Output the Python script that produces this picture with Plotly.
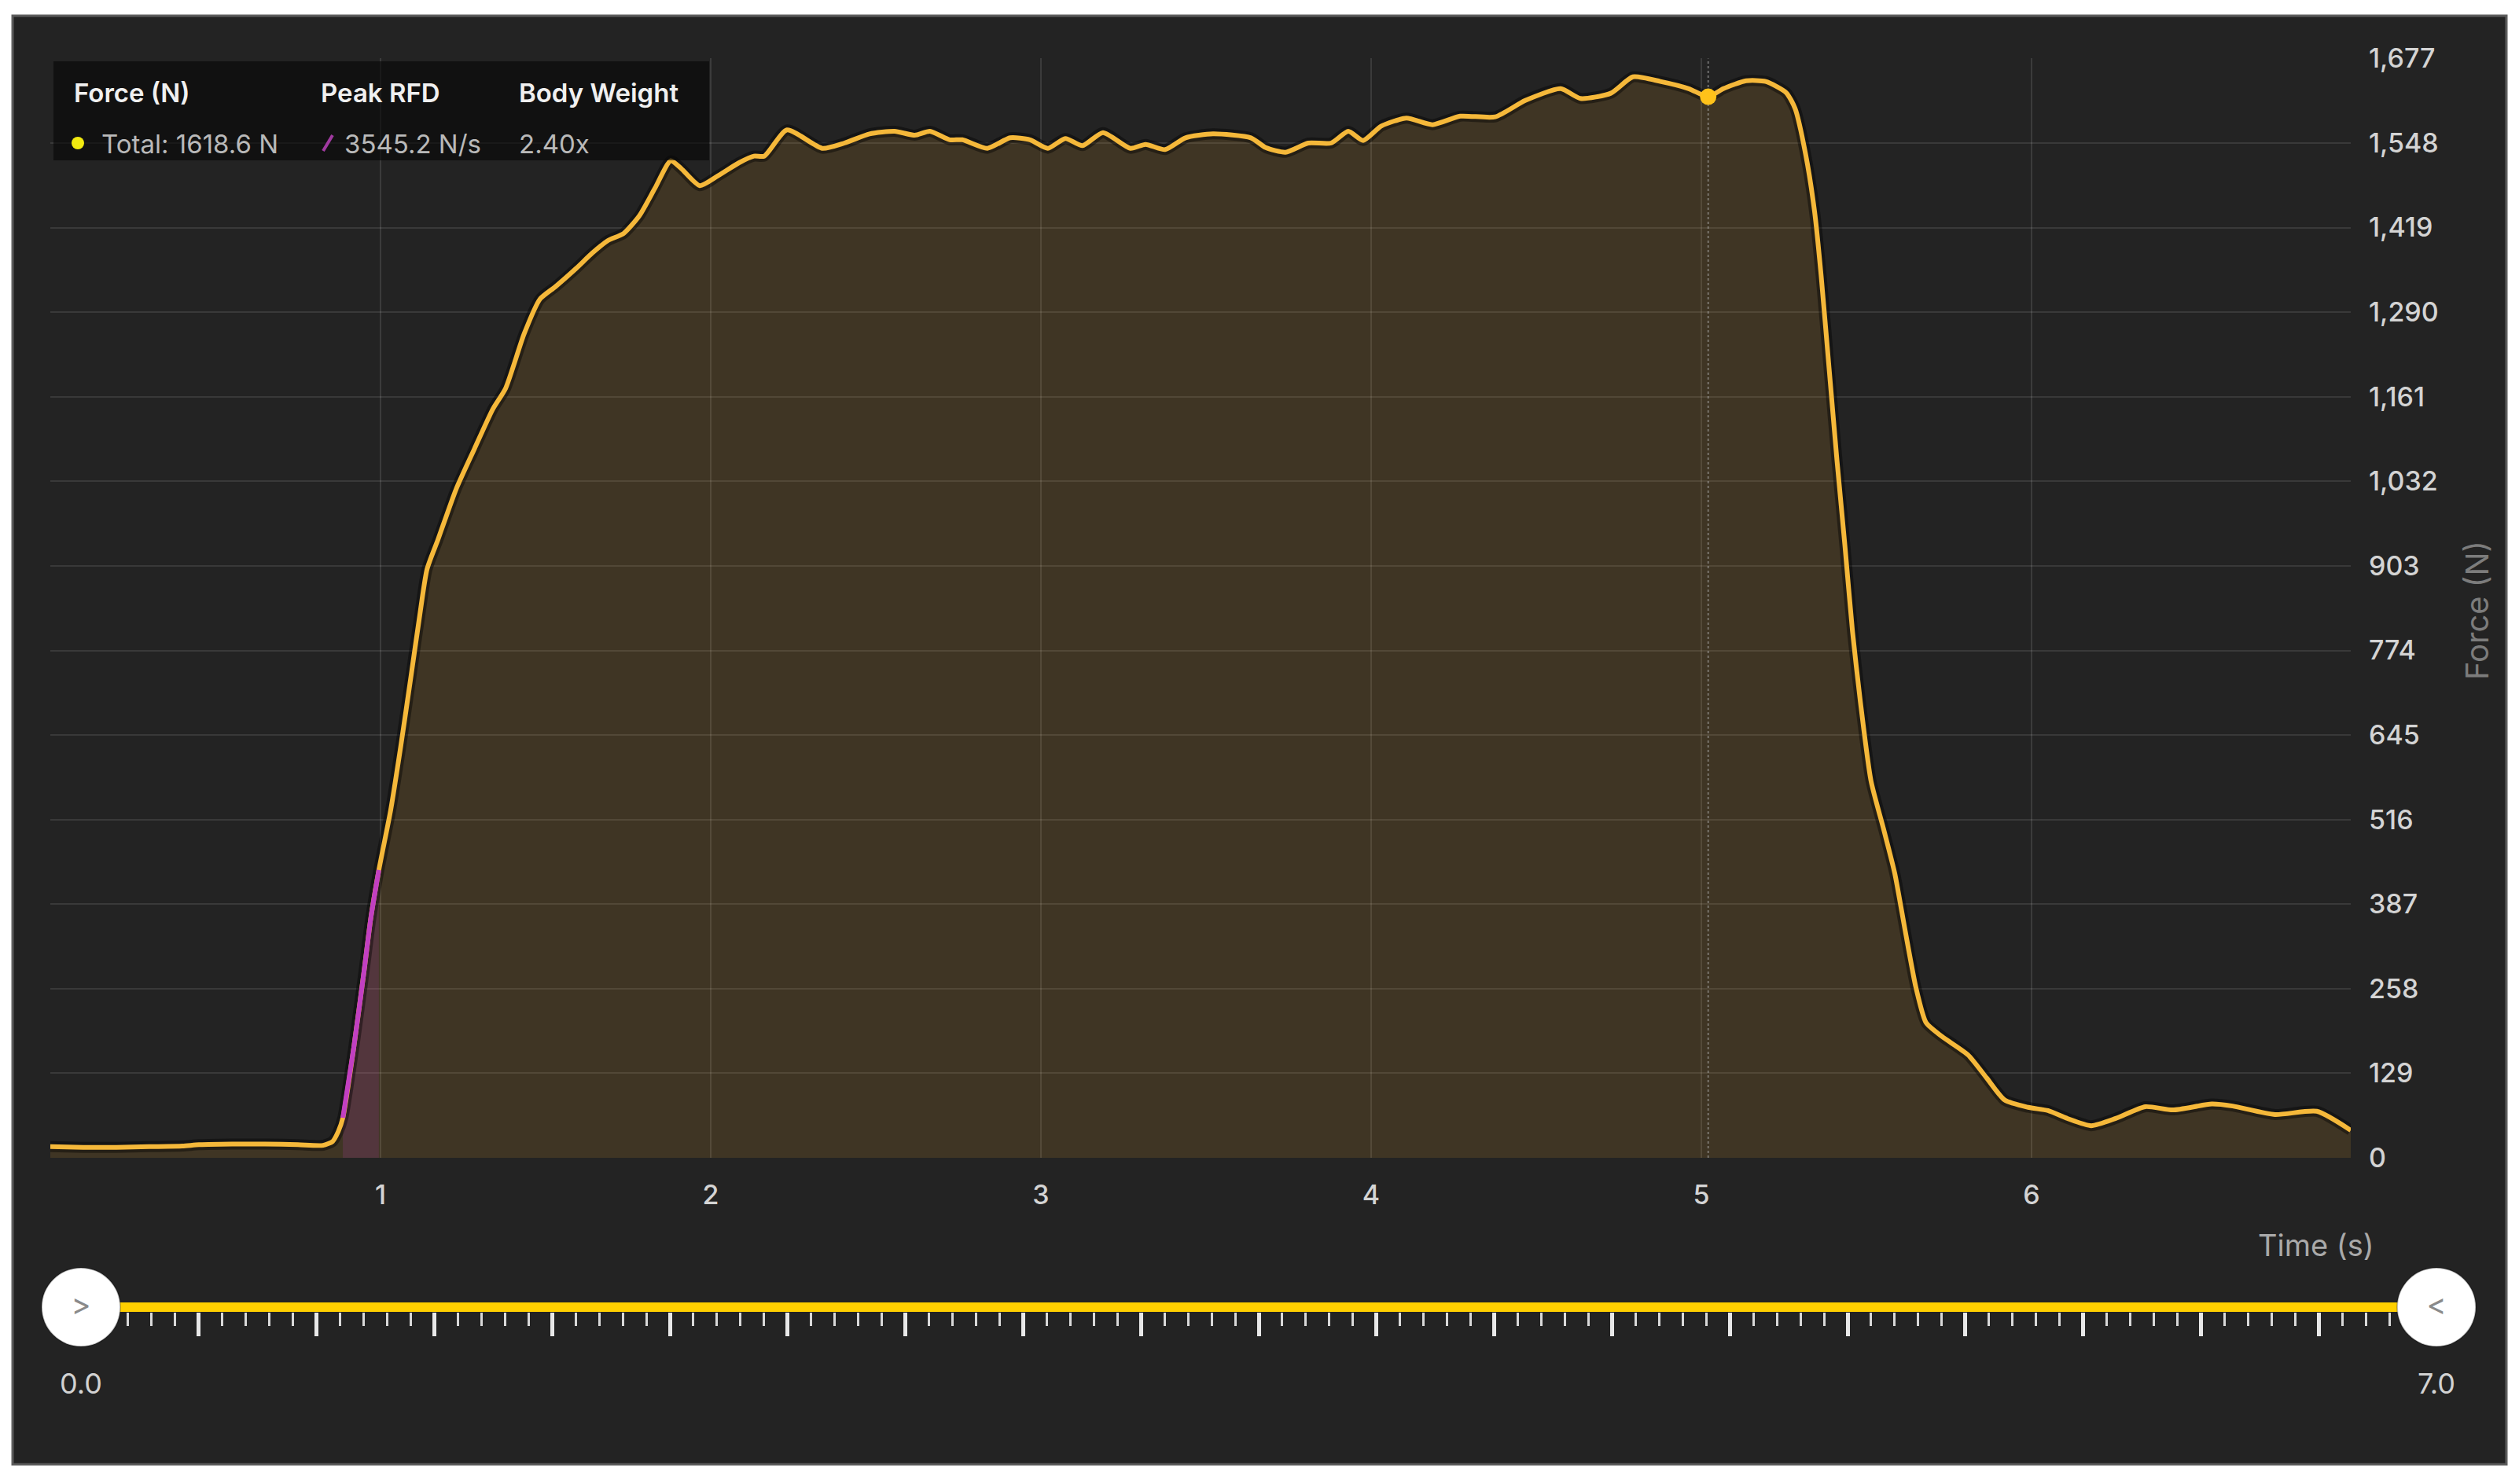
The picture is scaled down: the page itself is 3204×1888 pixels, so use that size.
import plotly.graph_objects as go

# ---------------- data ----------------
time_s = [0.00, 0.10, 0.20, 0.30, 0.40, 0.45, 0.55, 0.65, 0.75, 0.826, 0.855, 0.872,
          0.886, 0.919, 0.951, 0.971, 0.995,
          1.031, 1.062, 1.093, 1.117, 1.141, 1.174, 1.229, 1.284, 1.340, 1.379, 1.435,
          1.483, 1.530, 1.593, 1.641, 1.688, 1.736, 1.784, 1.831, 1.879, 1.911, 1.967,
          2.022, 2.086, 2.131, 2.162, 2.231, 2.338, 2.405, 2.481, 2.557, 2.618, 2.664,
          2.724, 2.762, 2.838, 2.907, 2.967, 3.021, 3.074, 3.126, 3.188, 3.271, 3.317,
          3.376, 3.438, 3.521, 3.636, 3.681, 3.741, 3.810, 3.879, 3.931, 3.976, 4.031,
          4.107, 4.186, 4.270, 4.376, 4.467, 4.574, 4.634, 4.726, 4.793, 4.876, 4.962,
          5.021, 5.067, 5.136, 5.195, 5.257, 5.284, 5.316, 5.343, 5.363, 5.387, 5.411,
          5.435, 5.458, 5.482, 5.514, 5.553, 5.586, 5.617, 5.650, 5.681, 5.729, 5.808,
          5.864, 5.919, 5.990, 6.050, 6.109, 6.181, 6.255, 6.345, 6.428, 6.546, 6.609,
          6.738, 6.864, 6.967]
force_n = [17, 16, 16, 17, 18, 20, 21, 21, 20, 19, 25, 40,
           61, 168, 288, 367, 439,
           531, 630, 737, 821, 898, 943, 1020, 1081, 1142, 1174, 1257,
           1310, 1329, 1357, 1380, 1399, 1410, 1437, 1479, 1521, 1509, 1483,
           1498, 1518, 1528, 1528, 1568, 1540, 1548, 1562, 1566, 1560, 1566,
           1553, 1553, 1540, 1556, 1553, 1540, 1555, 1544, 1564, 1540, 1546,
           1538, 1556, 1562, 1556, 1541, 1534, 1548, 1548, 1566, 1552, 1574,
           1586, 1576, 1589, 1588, 1613, 1631, 1616, 1624, 1649, 1642, 1631,
           1618.6, 1631, 1643, 1642, 1625, 1601, 1531, 1444, 1346, 1205, 1064,
           934, 803, 695, 575, 500, 434, 348, 260, 206, 185, 157,
           122, 88, 77, 72, 60, 49, 60, 78, 73, 82, 79,
           66, 71, 42]

x_tick_vals = [1, 2, 3, 4, 5, 6]
y_tick_vals = [0, 129, 258, 387, 516, 645, 774, 903, 1032, 1161, 1290, 1419, 1548, 1677]
x_range = [0, 6.967]

peak_time = 5.021
peak_force = 1618.6
peak_rfd = 3545.2
bw_ratio = 2.40
rfd_window = [0.886, 0.995]

legend_headers = ["Force (N)", "Peak RFD", "Body Weight"]
slider_ends = [0.0, 7.0]
slider_labels = ["0.0", "7.0"]
slider_major = 0.35
slider_minor = 0.07

# ---------------- helpers ----------------
W, H = 3204, 1888
OFF = 8  # page body offset compensation
def px(x):
    return (x - OFF) / W
def py(y):
    return 1 - (y - OFF) / H

FONT = "Inter, 'Open Sans', sans-serif"
BG = "#232323"
LINE = "#f5b83a"
PURPLE = "#c23fc2"

rfd_t = [t for t in time_s if rfd_window[0] <= t <= rfd_window[1]]
rfd_f = [f for t, f in zip(time_s, force_n) if rfd_window[0] <= t <= rfd_window[1]]

fig = go.Figure()

fig.add_trace(go.Scatter(x=time_s, y=force_n, mode="lines",
                         line=dict(width=0, shape="spline", smoothing=0.6),
                         fill="tozeroy", fillcolor="rgba(255,175,50,0.13)",
                         hoverinfo="skip", showlegend=False))
fig.add_trace(go.Scatter(x=rfd_t, y=rfd_f, mode="lines",
                         line=dict(width=0, shape="spline", smoothing=0.6),
                         fill="tozeroy", fillcolor="rgba(190,60,190,0.16)",
                         hoverinfo="skip", showlegend=False))
fig.add_trace(go.Scatter(x=time_s, y=force_n, mode="lines",
                         line=dict(width=14, color="rgba(0,0,0,0.40)", shape="spline", smoothing=0.6),
                         hoverinfo="skip", showlegend=False))
fig.add_trace(go.Scatter(x=time_s, y=force_n, mode="lines",
                         line=dict(width=6, color=LINE, shape="spline", smoothing=0.6),
                         name="Force", showlegend=False))
fig.add_trace(go.Scatter(x=rfd_t, y=rfd_f, mode="lines",
                         line=dict(width=6, color=PURPLE, shape="spline", smoothing=0.6),
                         name="Peak RFD", showlegend=False))
fig.add_trace(go.Scatter(x=[peak_time, peak_time], y=[y_tick_vals[0], y_tick_vals[-1]], mode="lines",
                         line=dict(width=2, color="rgba(170,170,170,0.55)", dash="dot"),
                         hoverinfo="skip", showlegend=False))
fig.add_trace(go.Scatter(x=[peak_time], y=[peak_force], mode="markers",
                         marker=dict(size=21, color="#ffc21a"),
                         showlegend=False))

# slider
fig.add_trace(go.Scatter(x=slider_ends, y=[0, 0], mode="lines",
                         line=dict(width=12, color="#ffd000"),
                         xaxis="x2", yaxis="y2", hoverinfo="skip", showlegend=False,
                         cliponaxis=False))
fig.add_trace(go.Scatter(x=slider_ends, y=[0, 0], mode="markers+text",
                         marker=dict(size=100, color="#ffffff",
                                     line=dict(width=2, color="rgba(0,0,0,0.25)")),
                         text=[">", "<"], textposition="middle center",
                         textfont=dict(size=38, color="#8a8a8a", family=FONT),
                         xaxis="x2", yaxis="y2", hoverinfo="skip", showlegend=False,
                         cliponaxis=False))

shapes = [
    dict(type="rect", xref="paper", yref="paper", x0=px(16), x1=px(3188), y0=py(1863), y1=py(20),
         fillcolor=BG, line=dict(color="#5c5c5c", width=3), layer="below"),
    dict(type="rect", xref="paper", yref="paper", x0=px(68), x1=px(902), y0=py(204), y1=py(78),
         fillcolor="rgba(6,6,6,0.62)", line=dict(width=0), layer="above"),
    dict(type="circle", xref="paper", yref="paper", x0=px(91), x1=px(107), y0=py(190), y1=py(174),
         fillcolor="#f2ea10", line=dict(width=0), layer="above"),
    dict(type="line", xref="paper", yref="paper", x0=px(411), x1=px(423), y0=py(192), y1=py(172),
         line=dict(color="#a03aa0", width=4), layer="above"),
]

head_font = dict(family=FONT, size=33, color="#f0f0f0", weight=600)
val_font = dict(family=FONT, size=33, color="#b9b9b9")
annotations = []
for label, xx in zip(legend_headers, [92, 406, 658]):
    annotations.append(dict(text=label, xref="paper", yref="paper", x=px(xx), y=py(118),
                            xanchor="left", yanchor="middle", showarrow=False, font=head_font))
legend_values = [f"Total: {peak_force:.1f} N", f"{peak_rfd:.1f} N/s", f"{bw_ratio:.2f}x"]
for label, xx in zip(legend_values, [127, 436, 658]):
    annotations.append(dict(text=label, xref="paper", yref="paper", x=px(xx), y=py(183),
                            xanchor="left", yanchor="middle", showarrow=False, font=val_font))
annotations.append(dict(text="Force (N)", xref="paper", yref="paper", x=px(3150), y=py(777),
                        xanchor="center", yanchor="middle", textangle=-90, showarrow=False,
                        font=dict(family=FONT, size=40, color="#7c7c7c")))
annotations.append(dict(text="Time (s)", xref="paper", yref="paper", x=px(3022), y=py(1584),
                        xanchor="right", yanchor="middle", showarrow=False,
                        font=dict(family=FONT, size=38, color="#a9a9a9")))
for xv, lab in zip(slider_ends, slider_labels):
    annotations.append(dict(text=lab, xref="x2", yref="y2", x=xv, y=0, yshift=-97,
                            xanchor="center", yanchor="middle", showarrow=False,
                            font=dict(family=FONT, size=36, color="#d2d2d2")))

fig.update_layout(
    width=W, height=H, autosize=False,
    margin=dict(l=0, r=0, t=0, b=0, pad=0, autoexpand=False),
    paper_bgcolor="#ffffff", plot_bgcolor="rgba(0,0,0,0)",
    showlegend=False,
    shapes=shapes, annotations=annotations,
    font=dict(family=FONT),
    xaxis=dict(domain=[px(64), px(2990)], range=x_range, tickmode="array", tickvals=x_tick_vals,
               showgrid=True, gridcolor="rgba(255,255,255,0.11)", gridwidth=2, automargin=False,
               zeroline=False, showline=False, ticks="", ticklabelstandoff=24,
               tickfont=dict(family=FONT, size=34, color="#d4d4d4", weight=500), anchor="y"),
    yaxis=dict(domain=[py(1473), py(74)], range=[0, 1677.5], side="right", tickmode="array",
               tickvals=y_tick_vals, tickformat=",d", automargin=False,
               showgrid=True, gridcolor="rgba(255,255,255,0.10)", gridwidth=2,
               zeroline=False, showline=False, ticks="", ticklabelstandoff=22,
               tickfont=dict(family=FONT, size=34, color="#d4d4d4", weight=500), anchor="x"),
    xaxis2=dict(domain=[px(103), px(3099)], range=slider_ends, anchor="free", position=py(1669),
                showgrid=False, zeroline=False, showline=False, showticklabels=False, automargin=False,
                ticks="outside", tick0=0, dtick=slider_major, ticklen=30, tickwidth=5,
                tickcolor="#e8e8e8", layer="below traces",
                minor=dict(ticks="outside", tick0=0, dtick=slider_minor, ticklen=17,
                           tickwidth=3, tickcolor="#d9d9d9")),
    yaxis2=dict(domain=[py(1793), py(1533)], range=[-1, 1], anchor="free", position=0,
                showgrid=False, zeroline=False, showline=False, showticklabels=False, ticks="",
                automargin=False),
)

fig.write_html("out.html")
